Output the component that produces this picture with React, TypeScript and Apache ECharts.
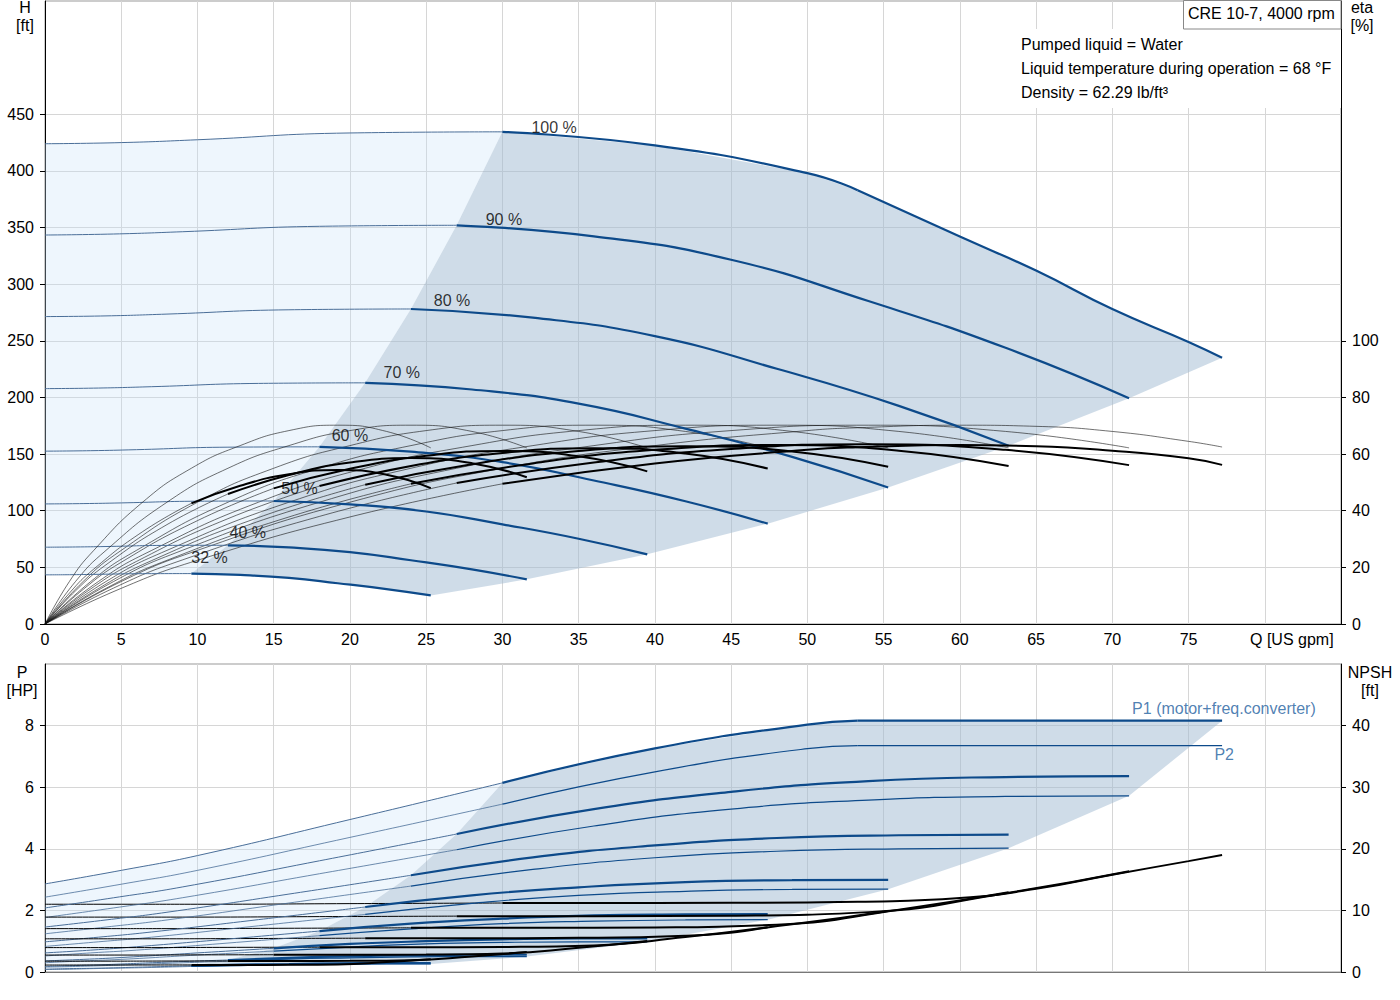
import React, { useEffect, useRef } from 'react';
import * as echarts from 'echarts';

const FONT = '"Liberation Sans", Arial, sans-serif';
const BLUE = '#0d4a8a';
const THIN_BLUE = '#4a6e98';
const DARK_FILL = 'rgba(160,185,210,0.5)';
const LIGHT_FILL = 'rgba(200,225,250,0.31)';

const speedNames = ['100 %', '90 %', '80 %', '70 %', '60 %', '50 %', '40 %', '32 %'];

// flow [US gpm] of every curve point, per speed; index 4 is the minimum flow
const flow = [
  [0, 5, 10, 20, 30, 40, 50, 53.3, 60, 65, 70, 75, 77.2],
  [0, 4.5, 9, 18, 27, 36, 45, 54, 63, 71.1],
  [0, 4, 8, 16, 24, 32, 40, 48, 56, 63.2],
  [0, 3.5, 7, 14, 21, 28, 35, 42, 49, 55.3],
  [0, 3, 6, 12, 18, 24, 30, 36, 42, 47.4],
  [0, 2.5, 5, 10, 15, 20, 25, 30, 35, 39.5],
  [0, 2, 4, 8, 12, 16, 20, 24, 28, 31.6],
  [0, 1.6, 3.2, 6.4, 9.6, 12.8, 16, 19.2, 22.4, 25.3],
];
const MIN = 4;
// index where the 100 % curve meets the power limit
const KINK = 7;

// head [ft]
const head = [
  [424, 425, 427.5, 433.5, 434.5, 422.5, 398, 383, 342, 312, 278, 249, 235],
  [343.4, 344.3, 346.3, 351.1, 352, 342.2, 321.6, 285.1, 243.8, 199.3],
  [271.4, 272, 273.6, 277.4, 278.1, 270.4, 254.1, 225.3, 192.6, 157.4],
  [207.8, 208.3, 209.5, 212.4, 212.9, 207, 194.5, 172.5, 147.5, 120.5],
  [152.6, 153, 153.9, 156.1, 156.4, 152.1, 142.9, 126.7, 108.4, 88.6],
  [106, 106.3, 106.9, 108.4, 108.6, 105.6, 99.3, 88, 75.3, 61.5],
  [67.8, 68, 68.4, 69.4, 69.5, 67.6, 63.5, 56.3, 48.2, 39.4],
  [43.4, 43.5, 43.8, 44.4, 44.5, 43.3, 40.7, 36, 30.8, 25.2],
];

// pump efficiency [%] (thin curves)
const etaPump = [
  [0, 15, 26, 43, 55, 63, 68.3, 69.3, 70.2, 69.8, 68, 64.5, 62.5],
  [0, 15, 26, 43, 55, 63, 68.3, 70.2, 68, 62.2],
  [0, 15, 26, 43, 55, 63, 68.3, 70.2, 68, 62.2],
  [0, 15, 26, 43, 55, 63, 68.3, 70.2, 68, 62.2],
  [0, 15, 26, 43, 55, 63, 68.3, 70.2, 68, 62.2],
  [0, 15, 26, 43, 55, 63, 68.3, 70.2, 68, 62.2],
  [0, 15, 26, 43, 55, 63, 68.3, 70.2, 68, 62.2],
  [0, 15, 26, 43, 55, 63, 68.3, 70.2, 68, 62.2],
];

// total efficiency [%] (thick curves)
const etaTotal = [
  [0, 12.6, 22.5, 37.8, 49.5, 56.7, 61.5, 62.4, 63.2, 62.8, 61.2, 58.5, 56.2],
  [0, 12.7, 22.6, 38, 49.8, 57, 61.8, 63.5, 61.5, 56.1],
  [0, 12.6, 22.5, 37.8, 49.5, 56.7, 61.5, 63.2, 61.2, 55.8],
  [0, 12.5, 22.4, 37.6, 49.2, 56.4, 61.1, 62.8, 60.9, 55.5],
  [0, 12.4, 22.1, 37.2, 48.7, 55.8, 60.4, 62.1, 60.2, 54.9],
  [0, 12.2, 21.8, 36.5, 47.9, 54.8, 59.4, 61.1, 59.2, 53.9],
  [0, 11.7, 20.9, 35.1, 45.9, 52.6, 57, 58.6, 56.8, 51.8],
  [0, 10.9, 19.4, 32.6, 42.6, 48.8, 52.9, 54.4, 52.7, 48],
];

// P1 (motor + freq. converter) [HP]
const powerP1 = [
  [2.86, 3.3, 3.78, 4.95, 6.14, 7.26, 8.03, 8.16, 8.16, 8.16, 8.16, 8.16, 8.16],
  [2.08, 2.41, 2.76, 3.61, 4.48, 5.29, 5.85, 6.2, 6.33, 6.36],
  [1.46, 1.69, 1.94, 2.53, 3.14, 3.72, 4.11, 4.35, 4.44, 4.46],
  [0.98, 1.13, 1.3, 1.7, 2.11, 2.49, 2.75, 2.92, 2.98, 2.99],
  [0.62, 0.71, 0.82, 1.07, 1.33, 1.57, 1.73, 1.84, 1.87, 1.88],
  [0.36, 0.41, 0.47, 0.62, 0.77, 0.91, 1.0, 1.06, 1.09, 1.09],
  [0.18, 0.21, 0.24, 0.32, 0.39, 0.46, 0.51, 0.54, 0.56, 0.56],
  [0.09, 0.11, 0.12, 0.16, 0.2, 0.24, 0.26, 0.28, 0.29, 0.29],
];

// P2 (shaft) [HP]
const powerP2 = [
  [2.43, 2.85, 3.3, 4.37, 5.45, 6.5, 7.25, 7.35, 7.35, 7.35, 7.35, 7.35, 7.35],
  [1.77, 2.08, 2.41, 3.19, 3.97, 4.74, 5.29, 5.58, 5.7, 5.72],
  [1.24, 1.46, 1.69, 2.24, 2.79, 3.33, 3.71, 3.92, 4.0, 4.02],
  [0.83, 0.98, 1.13, 1.5, 1.87, 2.23, 2.49, 2.62, 2.68, 2.69],
  [0.52, 0.62, 0.71, 0.94, 1.18, 1.4, 1.57, 1.65, 1.69, 1.7],
  [0.3, 0.36, 0.41, 0.55, 0.68, 0.81, 0.91, 0.96, 0.98, 0.98],
  [0.16, 0.18, 0.21, 0.28, 0.35, 0.42, 0.46, 0.49, 0.5, 0.5],
  [0.08, 0.09, 0.11, 0.14, 0.18, 0.21, 0.24, 0.25, 0.26, 0.26],
];

// NPSH [ft]
const npsh = [
  [11.0, 11.0, 11.0, 11.1, 11.2, 11.2, 11.3, 11.4, 12.0, 13.5, 15.8, 18.0, 19.0],
  [8.91, 8.91, 8.91, 8.99, 9.07, 9.07, 9.15, 9.72, 12.8, 16.36],
  [7.04, 7.04, 7.04, 7.1, 7.17, 7.17, 7.23, 7.68, 10.11, 12.93],
  [5.39, 5.39, 5.39, 5.44, 5.49, 5.49, 5.54, 5.88, 7.74, 9.9],
  [3.96, 3.96, 3.96, 4.0, 4.03, 4.03, 4.07, 4.32, 5.69, 7.27],
  [2.75, 2.75, 2.75, 2.78, 2.8, 2.8, 2.83, 3.0, 3.95, 5.05],
  [1.76, 1.76, 1.76, 1.78, 1.79, 1.79, 1.81, 1.92, 2.53, 3.23],
  [1.13, 1.13, 1.13, 1.14, 1.15, 1.15, 1.16, 1.23, 1.62, 2.07],
];

const qTicks = [0, 5, 10, 15, 20, 25, 30, 35, 40, 45, 50, 55, 60, 65, 70, 75];
const hTicks = [0, 50, 100, 150, 200, 250, 300, 350, 400, 450];
const etaTicks = [0, 20, 40, 60, 80, 100];
const pTicks = [0, 2, 4, 6, 8];
const npshTicks = [0, 10, 20, 30, 40];

// where the curve names are written: [Q, H]
const speedLabelAt = [
  [31.9, 437.9], [28.9, 357.5], [25.5, 285.2], [22.2, 221.6],
  [18.8, 166], [15.5, 119.2], [12.1, 81.2], [9.6, 58.3],
];
const powerLabelAt = [[71.3, 8.57], [76.7, 7.05]];
const infoLines = [
  'Pumped liquid = Water',
  'Liquid temperature during operation = 68 °F',
  'Density = 62.29 lb/ft³',
];

const lastIdx = (a: number[]) => a.length - 1;

const seg = (i: number, ys: number[][], from: number, to: number) => {
  const out: number[][] = [];
  const step = from <= to ? 1 : -1;
  for (let k = from; k !== to + step; k += step) out.push([flow[i][k], ys[i][k]]);
  return out;
};

const line = (data: number[][], xi: number, yi: number, color: string, width: number, z = 3) => ({
  type: 'line',
  xAxisIndex: xi,
  yAxisIndex: yi,
  data,
  symbol: 'none',
  smooth: 0.5,
  silent: true,
  z,
  lineStyle: { color, width },
});

// thick part of a curve, split at the power limit for the top speed
const thick = (i: number, ys: number[][], xi: number, yi: number, color: string, width: number, z: number) => {
  const end = lastIdx(flow[i]);
  if (i !== 0) return [line(seg(i, ys, MIN, end), xi, yi, color, width, z)];
  return [line(seg(i, ys, MIN, KINK), xi, yi, color, width, z), line(seg(i, ys, KINK, end), xi, yi, color, width, z)];
};

const area = (points: number[][], xi: number, yi: number, fill: string) => ({
  type: 'custom',
  xAxisIndex: xi,
  yAxisIndex: yi,
  silent: true,
  z: 1,
  data: [[0, 0]],
  renderItem: (_params: any, api: any) => ({
    type: 'polygon',
    shape: { points: points.map((p) => api.coord(p)) },
    style: { fill },
  }),
});

const lo = speedNames.length - 1;
const minLocus = (ys: number[][]) => speedNames.map((_, i) => [flow[i][MIN], ys[i][MIN]]).reverse();
const maxLocus = (ys: number[][]) =>
  speedNames.map((_, i) => [flow[i][lastIdx(flow[i])], ys[i][lastIdx(ys[i])]]).slice(1);

function buildOption() {
  const darkH = [
    ...minLocus(head),
    ...seg(0, head, MIN + 1, lastIdx(flow[0])),
    ...maxLocus(head),
    ...seg(lo, head, lastIdx(flow[lo]) - 1, MIN + 1),
  ];
  const lightH = [...seg(0, head, 0, MIN), ...minLocus(head).reverse().slice(1), ...seg(lo, head, MIN - 1, 0)];
  const darkP = [
    ...minLocus(powerP1),
    ...seg(0, powerP1, MIN + 1, lastIdx(flow[0])),
    ...maxLocus(powerP2),
    ...seg(lo, powerP2, lastIdx(flow[lo]) - 1, MIN),
  ];
  const lightP = [...seg(0, powerP1, 0, MIN), ...minLocus(powerP1).reverse().slice(1), ...seg(lo, powerP2, MIN, 0)];

  const series: any[] = [
    area(lightH, 0, 0, LIGHT_FILL),
    area(darkH, 0, 0, DARK_FILL),
    area(lightP, 1, 2, LIGHT_FILL),
    area(darkP, 1, 2, DARK_FILL),
  ];

  speedNames.forEach((_, i) => {
    const end = lastIdx(flow[i]);
    series.push(line(seg(i, head, 0, MIN), 0, 0, THIN_BLUE, 1));
    series.push(...thick(i, head, 0, 0, BLUE, 2.2, 4));
    series.push(line(seg(i, etaPump, 0, end), 0, 1, '#111', 0.6));
    series.push(line(seg(i, etaTotal, 0, MIN), 0, 1, '#111', 0.6));
    series.push(line(seg(i, etaTotal, MIN, end), 0, 1, '#000', 2, 5));
    series.push(line(seg(i, powerP1, 0, MIN), 1, 2, THIN_BLUE, 1));
    series.push(...thick(i, powerP1, 1, 2, BLUE, 2.2, 4));
    series.push(line(seg(i, powerP2, 0, MIN), 1, 2, THIN_BLUE, 0.8));
    series.push(...thick(i, powerP2, 1, 2, BLUE, 1.2, 4));
    series.push(line(seg(i, npsh, 0, MIN), 1, 3, '#000', 1));
    series.push(line(seg(i, npsh, MIN, end), 1, 3, '#000', 2, 5));
  });

  series.push({
    type: 'scatter',
    xAxisIndex: 0,
    yAxisIndex: 0,
    symbolSize: 0,
    silent: true,
    z: 8,
    data: speedNames.map((name, i) => ({ name, value: speedLabelAt[i] })),
    label: { show: true, position: 'right', distance: 0, formatter: '{b}', color: '#000', fontSize: 16, fontFamily: FONT },
  });
  series.push({
    type: 'scatter',
    xAxisIndex: 1,
    yAxisIndex: 2,
    symbolSize: 0,
    silent: true,
    z: 8,
    data: ['P1 (motor+freq.converter)', 'P2'].map((name, i) => ({ name, value: powerLabelAt[i] })),
    label: { show: true, position: 'right', distance: 0, formatter: '{b}', color: '#1f5fa0', fontSize: 16, fontFamily: FONT },
  });

  const labelStyle = { color: '#000', fontSize: 16, fontFamily: FONT };
  const split = { show: true, lineStyle: { color: '#d6d6d6', width: 1 } };
  const tick = (values: number[]) => ({ show: true, length: 5, customValues: values, lineStyle: { color: '#000' } });

  const xAxis = (gridIndex: number, labels: boolean) => ({
    type: 'value',
    gridIndex,
    min: 0,
    max: 85,
    interval: 5,
    axisLine: { show: true, onZero: false, lineStyle: { color: labels ? '#000' : '#777', width: 1 } },
    axisTick: { show: false },
    axisLabel: labels
      ? { ...labelStyle, margin: 7, customValues: qTicks, formatter: (v: number) => (v <= 75 ? String(v) : '') }
      : { show: false },
    splitLine: split,
  });

  const yAxis = (gridIndex: number, position: string, max: number, interval: number, ticks: number[], grid: boolean) => ({
    type: 'value',
    gridIndex,
    position,
    min: 0,
    max,
    interval,
    axisLine: { show: true, onZero: false, lineStyle: { color: '#000', width: 1 } },
    axisTick: tick(ticks),
    axisLabel: {
      ...labelStyle,
      margin: 11,
      customValues: ticks,
      formatter: (v: number) => (v <= ticks[ticks.length - 1] ? String(v) : ''),
    },
    splitLine: grid ? split : { show: false },
  });

  const text = (x: number, y: number, t: string, align = 'left', vAlign = 'middle') => ({
    type: 'text',
    x,
    y,
    z: 20,
    style: {
      text: t,
      fill: '#000',
      fontSize: 16,
      fontFamily: FONT,
      lineHeight: 18,
      textAlign: align,
      align,
      textVerticalAlign: vAlign,
      verticalAlign: vAlign,
    },
  });

  return {
    animation: false,
    backgroundColor: '#fff',
    grid: [
      { left: 45, right: 59, top: 1, height: 623, show: true, borderColor: '#999', borderWidth: 1, backgroundColor: 'transparent' },
      { left: 45, right: 59, top: 664, height: 308, show: true, borderColor: '#999', borderWidth: 1, backgroundColor: 'transparent' },
    ],
    xAxis: [xAxis(0, true), xAxis(1, false)],
    yAxis: [
      yAxis(0, 'left', 550, 50, hTicks, true),
      yAxis(0, 'right', 220, 20, etaTicks, false),
      yAxis(1, 'left', 10, 2, pTicks, true),
      yAxis(1, 'right', 50, 10, npshTicks, false),
    ],
    series,
    graphic: [
      { type: 'rect', z: 15, shape: { x: 1017, y: 29, width: 324, height: 79 }, style: { fill: '#fff' } },
      { type: 'rect', z: 15, shape: { x: 1183.5, y: 0.5, width: 157.5, height: 28.5 }, style: { fill: '#fff', stroke: '#888', lineWidth: 1 } },
      text(1188, 13, 'CRE 10-7, 4000 rpm'),
      ...infoLines.map((t, i) => text(1021, 44 + i * 24, t)),
      text(25, -2, 'H\n[ft]', 'center', 'top'),
      text(1362, -2, 'eta\n[%]', 'center', 'top'),
      text(22, 663, 'P\n[HP]', 'center', 'top'),
      text(1370, 663, 'NPSH\n[ft]', 'center', 'top'),
      text(1250, 639, 'Q [US gpm]'),
    ],
  };
}

export default function App() {
  const chartRef = useRef<HTMLDivElement>(null);

  useEffect(() => {
    if (!chartRef.current) return;
    const chart = echarts.init(chartRef.current, null, { renderer: 'svg' });
    chart.setOption(buildOption() as any);
    return () => {
      chart.dispose();
    };
  }, []);

  return (
    <div
      ref={chartRef}
      style={{ position: 'absolute', left: 0, top: 0, width: 1400, height: 1000, background: '#fff' }}
    />
  );
}
